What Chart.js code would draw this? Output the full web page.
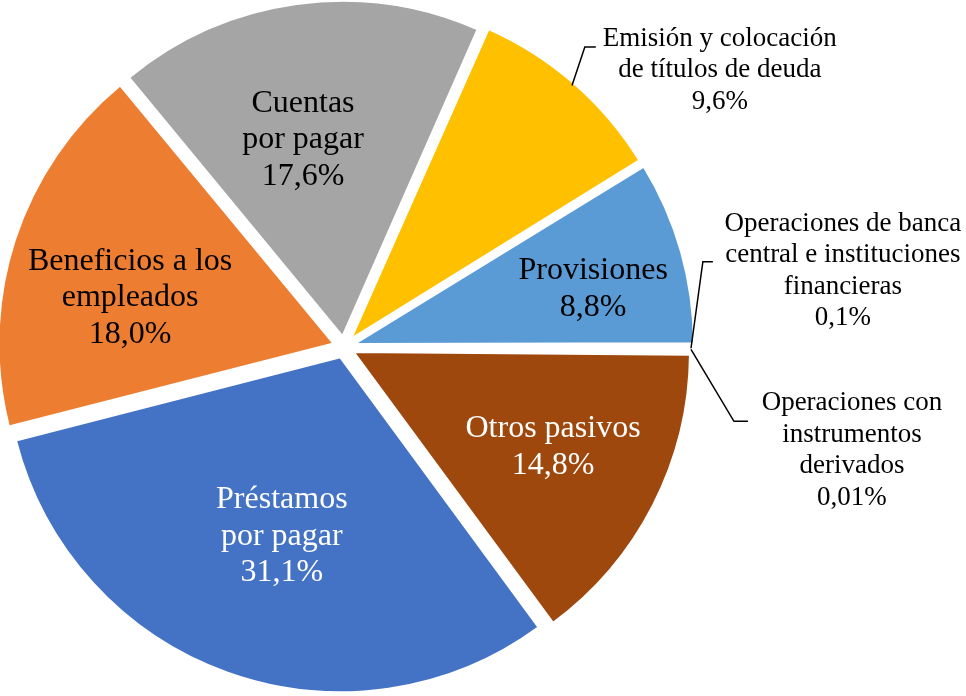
<!DOCTYPE html>
<html>
<head>
<meta charset="utf-8">
<script src="https://cdn.jsdelivr.net/npm/chart.js@4.4.0/dist/chart.umd.min.js"></script>
<style>
  html, body { margin: 0; padding: 0; background: #fff; }
</style>
</head>
<body>
<canvas id="myChart" width="966" height="696"></canvas>
<script>
// chart data (Excel series order, first slice = Préstamos)
const categories = ['Préstamos\npor pagar', 'Beneficios a los\nempleados', 'Cuentas\npor pagar',
  'Emisión y colocación\nde títulos de deuda', 'Provisiones',
  'Operaciones de banca\ncentral e instituciones\nfinancieras',
  'Operaciones con\ninstrumentos\nderivados', 'Otros pasivos'];
const shares = [31.1, 18.0, 17.6, 9.6, 8.8, 0.1, 0.01, 14.8];
const shareLabels = ['31,1%', '18,0%', '17,6%', '9,6%', '8,8%', '0,1%', '0,01%', '14,8%'];
const colors = ['#4472C4', '#ED7D31', '#A5A5A5', '#FFC000', '#5B9BD5', '#70AD47', '#264478', '#9E480E'];

// where each label sits: [degrees clockwise from top, distance in radius units]
const labelPos = [[198.2, 0.596], [282.9, 0.657], [348.8, 0.632], [53.6, 1.398],
  [76.9, 0.766], [81.3, 1.511], [101.5, 1.552], [115.6, 0.694]];
const labelColor = ['#fff', '#000', '#000', '#000', '#000', '#000', '#000', '#fff'];
// leader lines for outside labels: [end dx, end dy from text centre, elbow length]
const leaders = {3: [-124, -23, 11], 5: [-130, -9, 10], 6: [-104, -29, 14]};

const explode = 44; // chart.js moves a slice by offset/4
const serif = "'Liberation Serif', 'Times New Roman', serif";

const labelPlugin = {
  id: 'sliceLabels',
  afterDatasetsDraw(chart) {
    const meta = chart.getDatasetMeta(0);
    const ctx = chart.ctx;
    const cx = meta.data[0].x, cy = meta.data[0].y, R = meta.data[0].outerRadius;
    ctx.save();
    ctx.textAlign = 'center';
    ctx.textBaseline = 'middle';
    categories.forEach((cat, i) => {
      const outside = leaders[i] !== undefined;
      const size = outside ? 27 : 32;
      const lh = outside ? 31.5 : 36.5;
      const lines = cat.split('\n').concat([shareLabels[i]]);
      const a = labelPos[i][0] * Math.PI / 180;
      const tx = cx + Math.sin(a) * R * labelPos[i][1];
      const ty = cy - Math.cos(a) * R * labelPos[i][1];
      ctx.font = size + 'px ' + serif;
      ctx.fillStyle = labelColor[i];
      const top = ty - (lines.length - 1) * lh / 2;
      lines.forEach((ln, k) => ctx.fillText(ln, tx, top + k * lh));

      if (outside) {
        const arc = meta.data[i];
        const mid = (arc.startAngle + arc.endAngle) / 2;
        const r0 = R + explode / 4 + 2;
        const ex = tx + leaders[i][0], ey = ty + leaders[i][1];
        ctx.beginPath();
        ctx.moveTo(cx + Math.cos(mid) * r0, cy + Math.sin(mid) * r0);
        ctx.lineTo(ex - leaders[i][2], ey);
        ctx.lineTo(ex, ey);
        ctx.strokeStyle = '#000';
        ctx.lineWidth = 1.5;
        ctx.stroke();
      }
    });
    ctx.restore();
  }
};

let ctx = document.getElementById('myChart');
let myChart = new Chart(ctx, {
  type: 'pie',
  data: {
    labels: categories,
    datasets: [{
      data: shares,
      backgroundColor: colors,
      borderColor: '#fff',
      borderWidth: 2,
      offset: explode,
      rotation: 143.7,
      radius: 334
    }]
  },
  options: {
    responsive: false,
    animation: false,
    events: [],
    devicePixelRatio: 1,
    layout: {padding: {left: 0, right: 278, top: 0, bottom: 2}},
    plugins: {legend: {display: false}, tooltip: {enabled: false}}
  },
  plugins: [labelPlugin]
});
</script>
</body>
</html>
